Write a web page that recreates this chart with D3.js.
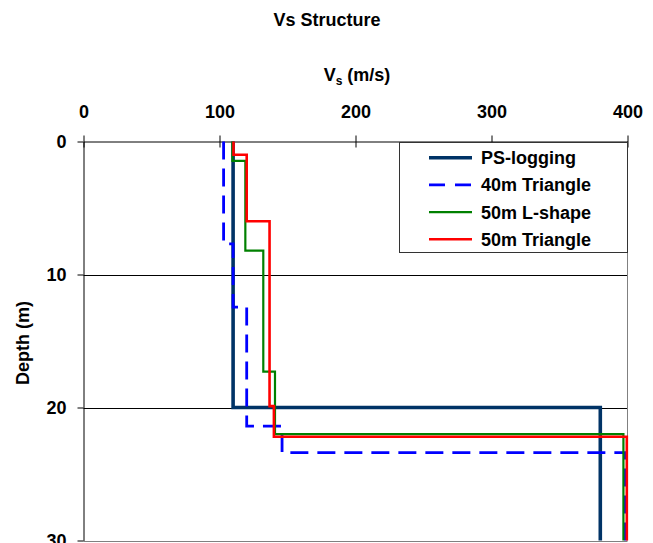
<!DOCTYPE html>
<html>
<head>
<meta charset="utf-8">
<script src="https://cdn.jsdelivr.net/npm/d3@7"></script>
<style>
  html, body { margin: 0; padding: 0; background: #fff; }
  text { font-family: "Liberation Sans", Arial, sans-serif; font-weight: bold; fill: #000; }
</style>
</head>
<body>
<svg id="chart" width="653" height="543"></svg>
<script>
// ---- data (layer boundaries in m, layer Vs in m/s) ----
const seriesNames = ["PS-logging", "40m Triangle", "50m L-shape", "50m Triangle"];
const psDepths   = [0, 20, 30];
const psVs       = [110, 380];
const tri40Depths = [0, 7.7, 12.45, 21.4, 23.4, 30];
const tri40Vs     = [103, 110, 120, 146, 398.5];
const l50Depths  = [0, 1.45, 8.2, 17.3, 22.0, 30];
const l50Vs      = [109.5, 119, 132.2, 140.8, 397];
const tri50Depths = [0, 1.0, 6.0, 19.9, 22.2, 30];
const tri50Vs     = [110.3, 120, 136.8, 140, 399.5];
const xTicks = [0, 100, 200, 300, 400];
const yTicks = [0, 10, 20, 30];

const svg = d3.select("#chart");
const W = 653, H = 543;
const x = d3.scaleLinear().domain([0, 400]).range([83.5, 627.5]);
const y = d3.scaleLinear().domain([0, 30]).range([141.5, 540.5]);

// title
svg.append("text").attr("x", 327).attr("y", 26).attr("text-anchor", "middle")
  .style("font-size", "18px").text("Vs Structure");

// x-axis title with subscript
const xt = svg.append("text").attr("x", 357).attr("y", 81).attr("text-anchor", "middle")
  .style("font-size", "18px");
xt.append("tspan").text("V");
xt.append("tspan").attr("dy", 4).style("font-size", "12px").text("s");
xt.append("tspan").attr("dy", -4).text(" (m/s)");

// y-axis title
svg.append("text").attr("transform", "translate(29,343) rotate(-90)")
  .attr("text-anchor", "middle").style("font-size", "18px").text("Depth (m)");

// gridlines (horizontal)
svg.append("g").selectAll("line").data(yTicks.filter(d => d > 0)).join("line")
  .attr("x1", x(0)).attr("x2", x(400))
  .attr("y1", d => Math.round(y(d)) + 0.5).attr("y2", d => Math.round(y(d)) + 0.5)
  .attr("stroke", d => d === 30 ? "#808080" : "#000").attr("stroke-width", 1);

// right plot border
svg.append("line").attr("x1", x(400)).attr("x2", x(400)).attr("y1", y(0)).attr("y2", y(30))
  .attr("stroke", "#808080").attr("stroke-width", 1);

// top x axis
const gx = svg.append("g").attr("transform", `translate(0,${y(0)})`)
  .call(d3.axisTop(x).tickValues(xTicks).tickSize(6).tickPadding(18).tickSizeOuter(0));
gx.select(".domain").attr("stroke", "#000");
gx.selectAll(".tick line").attr("y2", 6).attr("y1", -6).attr("stroke", "#000");
gx.selectAll(".tick text").style("font-size", "18px").attr("fill", "#000")
  .attr("y", -24).attr("dy", 0);

// left y axis
const gy = svg.append("g").attr("transform", `translate(${x(0)},0)`)
  .call(d3.axisLeft(y).tickValues(yTicks).tickSize(6).tickPadding(11).tickSizeOuter(0));
gy.select(".domain").attr("stroke", "#000");
gy.selectAll(".tick line").attr("stroke", "#000");
gy.selectAll(".tick text").style("font-size", "18px").attr("fill", "#000").attr("dy", "0.36em");
svg.selectAll(".tick text").style("font-family", "'Liberation Sans', Arial, sans-serif").style("font-weight", "bold");

// step series
function steps(depths, vs) {
  const pts = [];
  vs.forEach((v, i) => { pts.push([v, depths[i]]); pts.push([v, depths[i + 1]]); });
  return pts;
}
const line = d3.line().x(d => x(d[0])).y(d => y(d[1]));
const styles = [
  { stroke: "#003366", width: 3.6, dash: null },
  { stroke: "#0000ff", width: 2.8, dash: "18,9" },
  { stroke: "#008000", width: 2.2, dash: null },
  { stroke: "#ff0000", width: 2.6, dash: null }
];
const series = [
  steps(psDepths, psVs),
  steps(tri40Depths, tri40Vs),
  steps(l50Depths, l50Vs),
  steps(tri50Depths, tri50Vs)
];
const plot = svg.append("g");
plot.append("defs").append("clipPath").attr("id", "clip").append("rect")
  .attr("x", 0).attr("y", y(0) - 3).attr("width", W).attr("height", H);
series.forEach((pts, i) => {
  plot.append("path").attr("d", line(pts)).attr("fill", "none")
    .attr("clip-path", "url(#clip)")
    .attr("stroke", styles[i].stroke).attr("stroke-width", styles[i].width)
    .attr("stroke-dasharray", styles[i].dash).attr("stroke-linejoin", "miter")
    .attr("stroke-linecap", "butt");
});

// legend
const lg = svg.append("g");
lg.append("rect").attr("x", 399.5).attr("y", 142.5).attr("width", 228).attr("height", 110)
  .attr("fill", "#fff").attr("stroke", "#333").attr("stroke-width", 1);
seriesNames.forEach((name, i) => {
  const cy = 157.7 + i * 27.2;
  lg.append("line").attr("x1", 429).attr("x2", 472).attr("y1", cy).attr("y2", cy)
    .attr("stroke", styles[i].stroke).attr("stroke-width", styles[i].width)
    .attr("stroke-dasharray", i === 1 ? "16,10" : null);
  lg.append("text").attr("x", 481).attr("y", cy + 6.5).style("font-size", "18px").text(name);
});
</script>
</body>
</html>
